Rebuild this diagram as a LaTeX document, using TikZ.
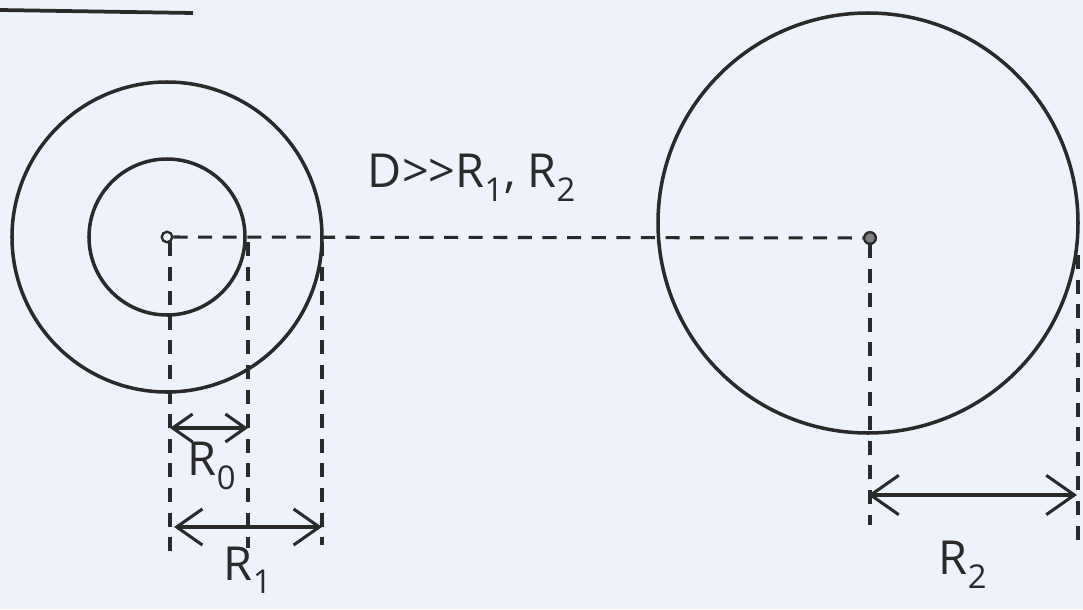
\documentclass[tikz,border=0pt]{standalone}
\usepackage{fontspec}
\setmainfont{Open Sans}
\usetikzlibrary{arrows.meta}
\definecolor{paper}{HTML}{EEF2FA}
\definecolor{ink}{HTML}{2A2A2A}
\tikzset{
  ring/.style={draw=ink, line width=3pt},
  guide/.style={draw=ink, line width=2.6pt, dash pattern=on 12pt off 9pt},
  dim/.style={draw=ink, line width=2.6pt, {Straight Barb[length=#1,width=1.4*#1,line width=2.6pt]}-{Straight Barb[length=#1,width=1.4*#1,line width=2.6pt]}},
  dim/.default=20pt,
  lbl/.style={text=ink, font=\fontsize{40}{44}\selectfont, inner sep=0pt}
}
\begin{document}
\begin{tikzpicture}[x=0.03cm, y=-0.03cm]
\fill[paper] (0,0) rectangle (1083,609);
\useasboundingbox (0,0) rectangle (1083,609);
% top-left rule
\coordinate (t1) at (0,10);
\coordinate (t2) at (193,13);
\draw[ink, line width=3.2pt] (t1) -- (t2);
% centres
\coordinate (L) at (167,237);
\coordinate (R) at (868,223);
\coordinate (Rdot) at (870,238);
% circles
\draw[ring] (L) circle (155);
\draw[ring] (L) circle (78);
\draw[ring] (R) circle (210);
\node[circle, draw=ink, line width=2pt, inner sep=0pt, minimum size=9pt] (ldot) at (L) {};
\node[circle, draw=ink, fill=ink!60, line width=2pt, inner sep=0pt, minimum size=10pt] (rdot) at (Rdot) {};
% horizontal dashed line
\draw[guide] (ldot) -- (rdot);
% vertical dashed lines
\coordinate (a0) at (170,242); \coordinate (a1) at (170,555);
\coordinate (b0) at (248,242); \coordinate (b1) at (248,548);
\coordinate (c0) at (322,242); \coordinate (c1) at (322,545);
\coordinate (d0) at (870,244); \coordinate (d1) at (870,525);
\coordinate (e0) at (1078,255); \coordinate (e1) at (1078,545);
\draw[guide] (a0) -- (a1);
\draw[guide] (b0) -- (b1);
\draw[guide] (c0) -- (c1);
\draw[guide] (d0) -- (d1);
\draw[guide] (e0) -- (e1);
% dimension arrows
\coordinate (r0a) at (170,428); \coordinate (r0b) at (248,428);
\coordinate (r1a) at (174,527); \coordinate (r1b) at (322,527);
\coordinate (r2a) at (868,495); \coordinate (r2b) at (1077,495);
\draw[dim=17pt] (r0a) -- (r0b);
\draw[dim=22pt] (r1a) -- (r1b);
\draw[dim=24pt] (r2a) -- (r2b);
% labels
\node[lbl] (lr0) at (212,466) {R\textsubscript{0}};
\node[lbl] (lr1) at (248,570) {R\textsubscript{1}};
\node[lbl] (lr2) at (963,565) {R\textsubscript{2}};
\node[lbl] (cond) at (472,178) {D{>}{>}R\textsubscript{1}, R\textsubscript{2}};
\end{tikzpicture}
\end{document}
